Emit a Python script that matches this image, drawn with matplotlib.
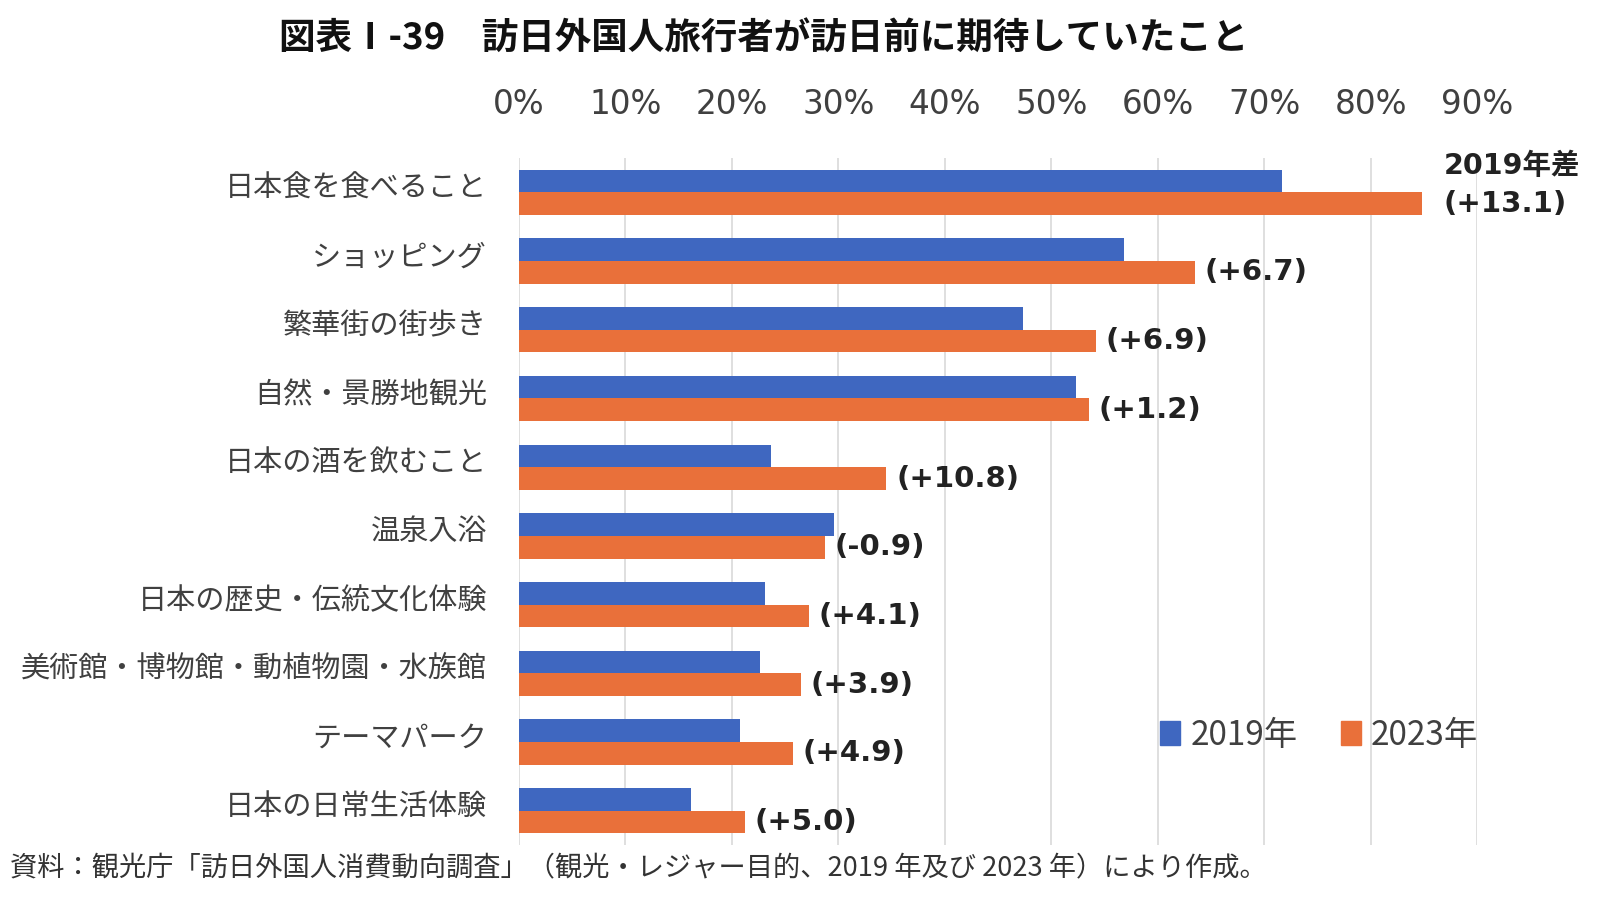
import matplotlib
matplotlib.use("Agg")
import matplotlib.pyplot as plt
from matplotlib.patches import Patch
from matplotlib.transforms import ScaledTranslation
import numpy as np

categories = ["日本食を食べること", "ショッピング", "繁華街の街歩き", "自然・景勝地観光",
              "日本の酒を飲むこと", "温泉入浴", "日本の歴史・伝統文化体験",
              "美術館・博物館・動植物園・水族館", "テーマパーク", "日本の日常生活体験"]
values_2019 = [71.7, 56.8, 47.3, 52.3, 23.7, 29.6, 23.1, 22.6, 20.8, 16.2]
values_2023 = [84.8, 63.5, 54.2, 53.5, 34.5, 28.7, 27.2, 26.5, 25.7, 21.2]
diff_labels = ["(+13.1)", "(+6.7)", "(+6.9)", "(+1.2)", "(+10.8)", "(-0.9)",
               "(+4.1)", "(+3.9)", "(+4.9)", "(+5.0)"]
tick_values = [0, 10, 20, 30, 40, 50, 60, 70, 80, 90]
tick_labels = ["0%", "10%", "20%", "30%", "40%", "50%", "60%", "70%", "80%", "90%"]
series_names = ["2019年", "2023年"]
title = "図表Ⅰ-39　訪日外国人旅行者が訪日前に期待していたこと"
source = "資料：観光庁「訪日外国人消費動向調査」（観光・レジャー目的、2019 年及び 2023 年）により作成。"

BLUE = "#3F67C0"
ORANGE = "#E9703A"
CJK = ["Noto Sans CJK JP", "DejaVu Sans"]
LAT = ["DejaVu Sans", "Noto Sans CJK JP"]

fig = plt.figure(figsize=(16, 9.21), dpi=100)
ax = fig.add_axes([0.3244, 0.0825, 0.5988, 0.7459])

y = np.arange(len(categories))
h = 0.33
ax.barh(y - h / 2, values_2019, height=h, color=BLUE, zorder=3)
ax.barh(y + h / 2, values_2023, height=h, color=ORANGE, zorder=3)

ax.set_xlim(0, 90)
ax.set_ylim(len(categories) - 0.5, -0.5)
ax.set_xticks(tick_values)
ax.set_xticklabels(tick_labels, fontfamily=LAT, fontsize=23.5, color="#404040")
ax.xaxis.tick_top()
ax.tick_params(axis="x", length=0, pad=27)
ax.set_yticks(y)
ax.set_yticklabels(categories, fontfamily=CJK, fontsize=21, color="#404040")
ax.tick_params(axis="y", length=0, pad=23)
shift = ScaledTranslation(0, 7 / 100, fig.dpi_scale_trans)
for lbl in ax.get_yticklabels():
    lbl.set_transform(lbl.get_transform() + shift)
ax.grid(axis="x", color="#D9D9D9", linewidth=1.2, zorder=0)
for s in ax.spines.values():
    s.set_visible(False)

for i, (v, lab) in enumerate(zip(values_2023, diff_labels)):
    off = 16 if i == 0 else 7
    ax.annotate(lab, xy=(v, i + h / 2), xytext=(off, 0), textcoords="offset points",
                ha="left", va="center", fontsize=21, fontweight="bold",
                fontfamily=LAT, color="#222222", annotation_clip=False)
ax.annotate("2019年差", xy=(values_2023[0], -h / 2 - 0.22), xytext=(16, 0),
            textcoords="offset points", ha="left", va="center", fontsize=20.5,
            fontweight="bold", fontfamily=LAT, color="#222222", annotation_clip=False)

handles = [Patch(color=BLUE), Patch(color=ORANGE)]
leg = ax.legend(handles, series_names, loc="center left", bbox_to_anchor=(0.652, 0.16),
                frameon=False, ncol=2, handlelength=0.6, handleheight=0.7,
                handletextpad=0.3, columnspacing=1.3, borderpad=0,
                prop={"family": CJK, "size": 24})
for t in leg.get_texts():
    t.set_color("#404040")

fig.text(0.477, 0.958, title, ha="center", va="center", fontsize=26.3,
         fontweight="bold", fontfamily=CJK, color="#111111")
fig.text(0.006, 0.0576, source, ha="left", va="center", fontsize=19.6,
         fontfamily=CJK, color="#333333")

fig.savefig("out.png", dpi=100, facecolor="white")
